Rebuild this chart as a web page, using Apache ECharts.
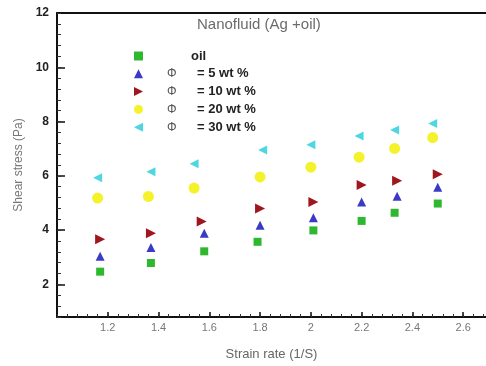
<!DOCTYPE html>
<html>
<head>
<meta charset="utf-8">
<script src="https://cdn.jsdelivr.net/npm/echarts@6/dist/echarts.min.js"></script>
<style>
  html, body { margin: 0; padding: 0; background: #fff; }
  #chart { width: 486px; height: 366px; }
</style>
</head>
<body>
<div id="chart"></div>
<script>
// series names (legend)
var names = ["oil", "Φ = 5 wt %", "Φ = 10 wt %", "Φ = 20 wt %", "Φ = 30 wt %"];

// strain rate (1/S) per series
var xOil  = [1.17, 1.37, 1.58, 1.79, 2.01, 2.20, 2.33, 2.50];
var x5    = [1.17, 1.37, 1.58, 1.80, 2.01, 2.20, 2.34, 2.50];
var x10   = [1.17, 1.37, 1.57, 1.80, 2.01, 2.20, 2.34, 2.50];
var x20   = [1.16, 1.36, 1.54, 1.80, 2.00, 2.19, 2.33, 2.48];
var x30   = [1.16, 1.37, 1.54, 1.81, 2.00, 2.19, 2.33, 2.48];

// shear stress (Pa)
var yOil  = [2.47, 2.79, 3.22, 3.57, 3.99, 4.34, 4.64, 4.98];
var y5    = [3.04, 3.36, 3.89, 4.18, 4.46, 5.04, 5.25, 5.58];
var y10   = [3.66, 3.89, 4.32, 4.80, 5.04, 5.66, 5.82, 6.06];
var y20   = [5.18, 5.24, 5.55, 5.96, 6.32, 6.69, 7.01, 7.41];
var y30   = [5.93, 6.15, 6.45, 6.95, 7.15, 7.47, 7.69, 7.93];

// tick labels
var xLabels = [1.2, 1.4, 1.6, 1.8, 2, 2.2, 2.4, 2.6];
var yLabels = [2, 4, 6, 8, 10, 12];

// minor ticks every 0.04 on x and 0.4 on y
function steps(from, to, step) {
  var out = [];
  for (var i = 0; from + i * step <= to + 1e-9; i++) {
    out.push(Math.round((from + i * step) * 1000) / 1000);
  }
  return out;
}
var xMinor = steps(1.0, 2.68, 0.04);
var yMinor = steps(0.8, 12, 0.4);

function pairs(xs, ys) {
  return xs.map(function (x, i) { return [x, ys[i]]; });
}

// triangle icons pointing right / left for the legend
var triRight = "path://M0,0L10,5L0,10Z";
var triLeft = "path://M10,0L0,5L10,10Z";

var myChart = echarts.init(document.getElementById("chart"));
myChart.setOption({
  animation: false,
  title: {
    text: "Nanofluid (Ag +oil)",
    left: 197,
    top: 17,
    padding: 0,
    textStyle: { color: "#6b6b6b", fontSize: 15, fontWeight: "normal", fontFamily: "Liberation Sans" }
  },
  legend: {
    orient: "vertical",
    left: 134,
    top: 49,
    padding: 0,
    itemWidth: 9,
    itemHeight: 9,
    itemGap: 3.8,
    data: [
      { name: names[0] },
      { name: names[1] },
      { name: names[2], icon: triRight },
      { name: names[3] },
      { name: names[4], icon: triLeft }
    ],
    formatter: function (name) {
      if (name === "oil") return "{o|oil}";
      return "{phi|Φ}{b|" + name.replace("Φ ", "") + "}";
    },
    textStyle: {
      fontFamily: "Liberation Sans",
      lineHeight: 14,
      rich: {
        o: { fontWeight: "bold", fontSize: 13, color: "#222", padding: [0, 0, 0, 43] },
        phi: { fontSize: 12, color: "#555", width: 30, padding: [0, 0, 0, 19] },
        b: { fontWeight: "bold", fontSize: 13, color: "#222" }
      }
    }
  },
  grid: { left: 57, right: 0, top: 13, bottom: 41 },
  xAxis: [
    {
      type: "value",
      min: 1.0,
      max: 2.69,
      name: "Strain rate (1/S)",
      nameLocation: "middle",
      nameGap: 31,
      nameTextStyle: { color: "#666", fontSize: 13, fontFamily: "Liberation Sans" },
      splitLine: { show: false },
      axisLine: { lineStyle: { color: "#111", width: 2 } },
      axisTick: { inside: true, length: 5, customValues: xLabels, lineStyle: { color: "#111", width: 1.5 } },
      axisLabel: { customValues: xLabels, color: "#777", fontSize: 11, margin: 5, fontFamily: "Liberation Sans" }
    },
    {
      type: "value",
      min: 1.0,
      max: 2.69,
      position: "bottom",
      splitLine: { show: false },
      axisLine: { show: false },
      axisTick: { inside: true, length: 3, customValues: xMinor, lineStyle: { color: "#333" } },
      axisLabel: { show: false }
    },
    {
      type: "value",
      min: 1.0,
      max: 2.69,
      position: "top",
      splitLine: { show: false },
      axisLine: { lineStyle: { color: "#111", width: 2 } },
      axisTick: { show: false },
      axisLabel: { show: false }
    }
  ],
  yAxis: [
    {
      type: "value",
      min: 0.8,
      max: 12,
      name: "Shear stress (Pa)",
      nameLocation: "middle",
      nameGap: 32,
      nameTextStyle: { color: "#777", fontSize: 12, fontFamily: "Liberation Sans" },
      splitLine: { show: false },
      axisLine: { lineStyle: { color: "#111", width: 2 } },
      axisTick: { inside: true, length: 8, customValues: yLabels, lineStyle: { color: "#111", width: 1.5 } },
      axisLabel: { customValues: yLabels, color: "#222", fontSize: 12, fontWeight: "bold", margin: 8, fontFamily: "Liberation Sans" }
    },
    {
      type: "value",
      min: 0.8,
      max: 12,
      position: "left",
      splitLine: { show: false },
      axisLine: { show: false },
      axisTick: { inside: true, length: 4, customValues: yMinor, lineStyle: { color: "#333" } },
      axisLabel: { show: false }
    }
  ],
  series: [
    { name: names[0], type: "scatter", symbol: "rect", symbolSize: 8,
      itemStyle: { color: "#2fb82f", opacity: 1 }, data: pairs(xOil, yOil) },
    { name: names[1], type: "scatter", symbol: "triangle", symbolSize: 9,
      itemStyle: { color: "#3a3ac4", opacity: 1 }, data: pairs(x5, y5) },
    { name: names[2], type: "scatter", symbol: "triangle", symbolSize: 10, symbolRotate: -90,
      itemStyle: { color: "#a0161f", opacity: 1 }, data: pairs(x10, y10) },
    { name: names[3], type: "scatter", symbol: "circle", symbolSize: 11,
      itemStyle: { color: "#f4f22a", opacity: 1 }, data: pairs(x20, y20) },
    { name: names[4], type: "scatter", symbol: "triangle", symbolSize: 9, symbolRotate: 90,
      itemStyle: { color: "#4fd6e3", opacity: 1 }, data: pairs(x30, y30) }
  ]
});
</script>
</body>
</html>
